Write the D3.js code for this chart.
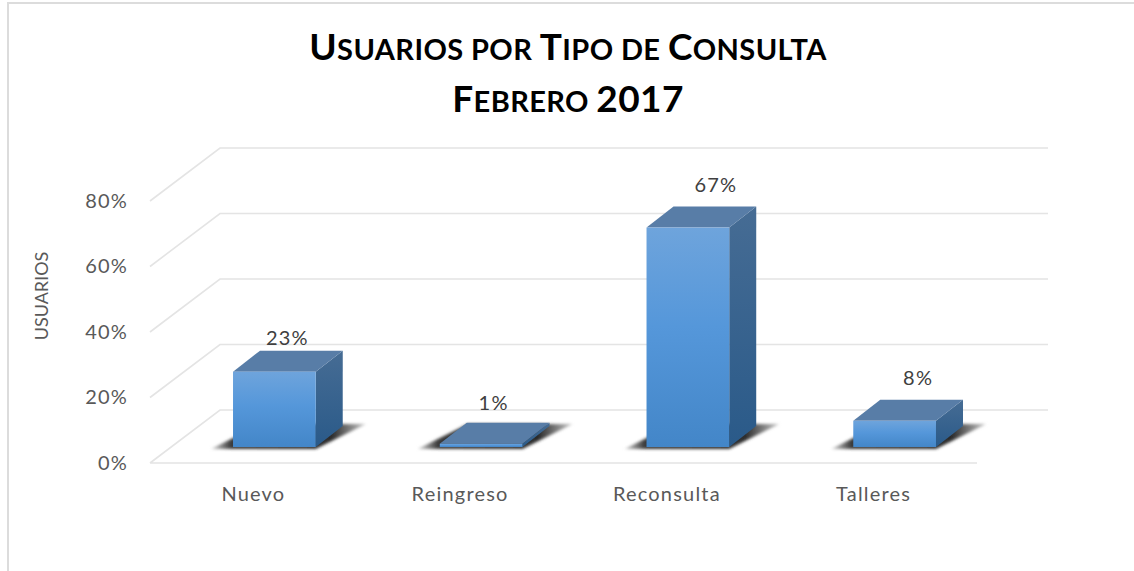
<!DOCTYPE html>
<html>
<head>
<meta charset="utf-8">
<script src="https://cdn.jsdelivr.net/npm/d3@7"></script>
<style>
    html, body { margin: 0; padding: 0; background: #fff; }
    svg { display: block; }
    text { font-family: Lato, "Open Sans", sans-serif; }
</style>
</head>
<body>
<div id="chart"></div>
<script>
// ___________________________Data_______________________________
const categories = ["Nuevo", "Reingreso", "Reconsulta", "Talleres"];
const values = [23, 1, 67, 8];
const yTicks = [0, 20, 40, 60, 80];
const titleLines = ["Usuarios por Tipo de Consulta", "Febrero 2017"];
const yAxisTitle = "Usuarios";

const width = 1134;
const height = 571;

const svg = d3.select("#chart")
    .append("svg")
    .attr("width", width)
    .attr("height", height);

const defs = svg.append("defs");

function addGradient(id, stops) {
    const g = defs.append("linearGradient")
        .attr("id", id)
        .attr("x1", 0).attr("y1", 0)
        .attr("x2", 0).attr("y2", 1);
    stops.forEach(function (s) {
        g.append("stop").attr("offset", s[0]).attr("stop-color", s[1]);
    });
}
addGradient("frontFill", [["0%", "#6ea4dc"], ["45%", "#5597da"], ["100%", "#4386c8"]]);
addGradient("sideFill", [["0%", "#466c94"], ["100%", "#2a5a89"]]);

defs.append("filter")
    .attr("id", "soft")
    .attr("x", "-20%").attr("y", "-40%")
    .attr("width", "140%").attr("height", "180%")
    .append("feGaussianBlur")
    .attr("stdDeviation", 1.6);

// shadow fades towards both tips
const shadowGrad = defs.append("linearGradient")
    .attr("id", "shadowFill")
    .attr("x1", 0).attr("y1", 0)
    .attr("x2", 1).attr("y2", 0);
[["0%", "#d8d8d8"], ["13%", "#3a3a3a"], ["78%", "#2c2c2c"], ["100%", "#c8c8c8"]].forEach(function (s) {
    shadowGrad.append("stop").attr("offset", s[0]).attr("stop-color", s[1]);
});

// outer frame, only top and left edges show
svg.append("path")
    .attr("d", `M8,${height} V3 H${width}`)
    .attr("fill", "none")
    .attr("stroke", "#dcdcdc")
    .attr("stroke-width", 2);

// Scales: the front edge of the floor, the walls go back by depth
const floorLeft = 150;
const floorRight = 977;
const wallDx = 70;
const wallDy = -53;

const xScale = d3.scaleBand()
    .domain(categories)
    .range([floorLeft, floorRight])
    .paddingInner(0.6)
    .paddingOuter(0.3);

const yScale = d3.scaleLinear()
    .domain([0, 80])
    .range([463, 201]);

// Gridlines
const grid = svg.append("g").attr("class", "grid");
grid.selectAll("path")
    .data(yTicks)
    .enter()
    .append("path")
    .attr("d", function (d) {
        const y = yScale(d);
        const front = d === 0 ? `H${floorRight} M${floorLeft},${y} ` : "";
        return `M${floorLeft},${y} ${front}L${floorLeft + wallDx},${y + wallDy} H${floorRight + wallDx + 1}`;
    })
    .attr("fill", "none")
    .attr("stroke", "#e4e4e4")
    .attr("stroke-width", 1.6);

// Y axis
const yAxis = d3.axisLeft(yScale)
    .tickValues(yTicks)
    .tickSize(0)
    .tickPadding(0)
    .tickFormat(d => d + "%");

svg.append("g")
    .attr("class", "y-axis")
    .attr("transform", "translate(128,0)")
    .call(yAxis)
    .call(g => g.select(".domain").remove())
    .selectAll("text")
    .style("font-size", "20px")
    .style("font-family", "Lato")
    .style("letter-spacing", "1.2px")
    .attr("fill", "#595959");

svg.append("text")
    .attr("transform", "translate(48,296) rotate(-90)")
    .attr("text-anchor", "middle")
    .style("font-size", "18px")
    .style("text-transform", "uppercase")
    .attr("fill", "#595959")
    .text(yAxisTitle);

// X axis
const xAxis = d3.axisBottom(xScale).tickSize(0).tickPadding(0);

svg.append("g")
    .attr("class", "x-axis")
    .attr("transform", "translate(0,487)")
    .call(xAxis)
    .call(g => g.select(".domain").remove())
    .selectAll("text")
    .style("font-size", "20px")
    .style("font-family", "Lato")
    .style("letter-spacing", "1.2px")
    .attr("fill", "#595959");

// Bars: bar sits a little behind the front edge of the floor
const barDx = 21;
const barDy = -16;
const topDx = 27;
const topDy = -21;
const barW = xScale.bandwidth();
const barBase = () => yScale(0) + barDy;
const barTop = d => yScale(d) + barDy;

const data = categories.map((c, i) => ({ category: c, value: values[i] }));

const bars = svg.selectAll(".bar")
    .data(data)
    .enter()
    .append("g")
    .attr("class", "bar")
    .attr("transform", d => `translate(${xScale(d.category) + barDx},0)`);

// shadow
bars.append("path")
    .attr("d", function () {
        const y = barBase() + 2;
        return `M-22,${y} H${barW} L${barW + 50},${y - 25} H28 Z`;
    })
    .attr("fill", "url(#shadowFill)")
    .attr("filter", "url(#soft)");

// right side
bars.append("path")
    .attr("d", function (d) {
        const t = barTop(d.value);
        const b = barBase();
        return `M${barW},${t} L${barW + topDx},${t + topDy} V${b + topDy} L${barW},${b} Z`;
    })
    .attr("fill", "url(#sideFill)");

// top
bars.append("path")
    .attr("d", function (d) {
        const t = barTop(d.value);
        return `M0,${t} L${topDx},${t + topDy} H${barW + topDx} L${barW},${t} Z`;
    })
    .attr("fill", "#587da7");

// front
bars.append("rect")
    .attr("x", 0)
    .attr("y", d => barTop(d.value))
    .attr("width", barW)
    .attr("height", d => barBase() - barTop(d.value))
    .attr("fill", "url(#frontFill)");

// Append numbers above the bars, they were moved by hand in the original
const labelDx = [13, 12.5, 28, 23.5];
const labelDy = [6, 13, 15, 15];

svg.selectAll(".bar-label")
    .data(data)
    .enter()
    .append("text")
    .attr("class", "bar-label")
    .attr("x", (d, i) => xScale(d.category) + barDx + barW / 2 + labelDx[i])
    .attr("y", (d, i) => barTop(d.value) + topDy - labelDy[i])
    .attr("text-anchor", "middle")
    .style("font-size", "20px")
    .style("letter-spacing", "1.2px")
    .attr("fill", "#404040")
    .text(d => d.value + "%");

// Title: small caps built by hand, lower case runs are set smaller
const titles = svg.selectAll(".title")
    .data(titleLines)
    .enter()
    .append("text")
    .attr("class", "title")
    .attr("x", 568)
    .attr("y", (d, i) => 60 + i * 52)
    .attr("text-anchor", "middle")
    .style("font-weight", "bold")
    .style("text-transform", "uppercase")
    .attr("fill", "#000");

titles.selectAll("tspan")
    .data(d => d.match(/[a-z ]+|[^a-z ]+/g))
    .enter()
    .append("tspan")
    .style("font-size", d => /[a-z]/.test(d) ? "29px" : "37px")
    .style("letter-spacing", "0.4px")
    .text(d => d);
</script>
</body>
</html>
